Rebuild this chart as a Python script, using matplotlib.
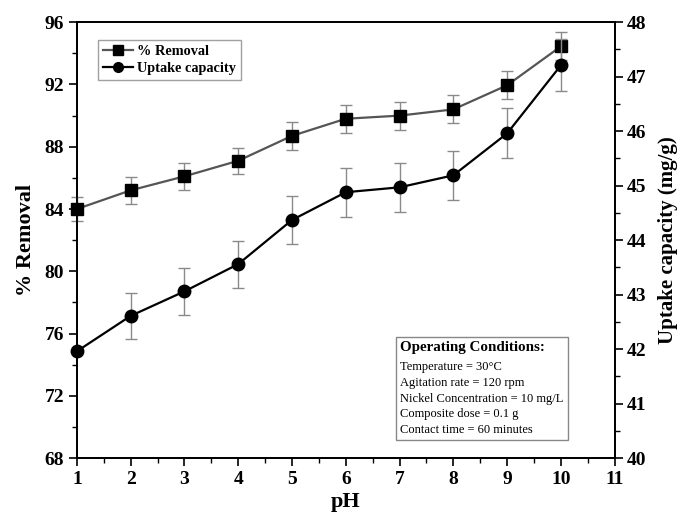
import matplotlib
matplotlib.use("Agg")
import matplotlib.pyplot as plt
from matplotlib.ticker import MultipleLocator
from matplotlib.offsetbox import AnchoredOffsetbox, TextArea, VPacker

plt.rcParams['font.family'] = ['Liberation Serif', 'DejaVu Serif']

ph = [1, 2, 3, 4, 5, 6, 7, 8, 9, 10]
removal = [84.0, 85.2, 86.1, 87.1, 88.7, 89.8, 90.0, 90.4, 91.95, 94.45]
removal_err = [0.8, 0.85, 0.85, 0.85, 0.9, 0.9, 0.9, 0.9, 0.9, 0.9]
uptake = [41.96, 42.61, 43.06, 43.56, 44.37, 44.88, 44.97, 45.19, 45.96, 47.21]
uptake_err = [0.0, 0.42, 0.43, 0.43, 0.44, 0.45, 0.45, 0.45, 0.46, 0.48]

conditions = ["Temperature = 30\u00b0C",
              "Agitation rate = 120 rpm",
              "Nickel Concentration = 10 mg/L",
              "Composite dose = 0.1 g",
              "Contact time = 60 minutes"]

fig = plt.figure(figsize=(6.8, 5.29), dpi=100)
ax = fig.add_axes([0.113, 0.134, 0.791, 0.824])
ax2 = ax.twinx()

ax.errorbar(ph, removal, yerr=removal_err, color='#555555', ecolor='#8a8a8a',
            elinewidth=1.0, capsize=4, capthick=1.0, lw=1.6, marker='s',
            ms=8, mfc='black', mec='black', clip_on=False, zorder=3)
ax2.errorbar(ph, uptake, yerr=uptake_err, color='black', ecolor='#8a8a8a',
             elinewidth=1.0, capsize=4, capthick=1.0, lw=1.6, marker='o',
             ms=9, mfc='black', mec='black', clip_on=False, zorder=3)

ax.set_xlim(1, 11)
ax.set_ylim(68, 96)
ax2.set_ylim(40, 48)
ax.xaxis.set_major_locator(MultipleLocator(1))
ax.xaxis.set_minor_locator(MultipleLocator(0.5))
ax.yaxis.set_major_locator(MultipleLocator(4))
ax.yaxis.set_minor_locator(MultipleLocator(2))
ax2.yaxis.set_major_locator(MultipleLocator(1))
ax2.yaxis.set_minor_locator(MultipleLocator(0.5))

for a in (ax, ax2):
    for s in a.spines.values():
        s.set_linewidth(1.3)
    a.tick_params(which='major', direction='out', length=6, width=1.2,
                  labelsize=14, pad=3)
    a.tick_params(which='minor', direction='out', length=3.5, width=1.0)
    for lab in a.get_xticklabels() + a.get_yticklabels():
        lab.set_fontweight('bold')

ax.set_xlabel('pH', fontsize=16, fontweight='bold', labelpad=3)
ax.set_ylabel('% Removal', fontsize=16, fontweight='bold', labelpad=6)
ax2.set_ylabel('Uptake capacity (mg/g)', fontsize=15, fontweight='bold', labelpad=8)

l1 = ax.lines[0]
l2 = ax2.lines[0]
leg = ax.legend([l1, l2], ['% Removal', 'Uptake capacity'],
                loc='upper left', bbox_to_anchor=(0.039, 0.959),
                borderaxespad=0,
                prop={'weight': 'bold', 'size': 10.3}, frameon=True,
                fancybox=False, edgecolor='#888888', handlelength=2.1,
                handletextpad=0.3, borderpad=0.35, labelspacing=0.3)
leg.get_frame().set_linewidth(1.0)
for h in leg.legend_handles:
    h.set_markersize(7)

title_area = TextArea("Operating Conditions:",
                      textprops=dict(fontsize=10.8, fontweight='bold'))
body_area = TextArea("\n".join(conditions),
                     textprops=dict(fontsize=9, linespacing=1.42))
pack = VPacker(children=[title_area, body_area], align='left', pad=0, sep=5)
box = AnchoredOffsetbox(loc='lower left', child=pack, pad=0.3, borderpad=0,
                        frameon=True, bbox_to_anchor=(0.593, 0.041),
                        bbox_transform=ax.transAxes)
box.patch.set_edgecolor('#888888')
box.patch.set_linewidth(1.0)
box.patch.set_boxstyle('square,pad=0')
ax.add_artist(box)

fig.savefig('out.png', dpi=100)
